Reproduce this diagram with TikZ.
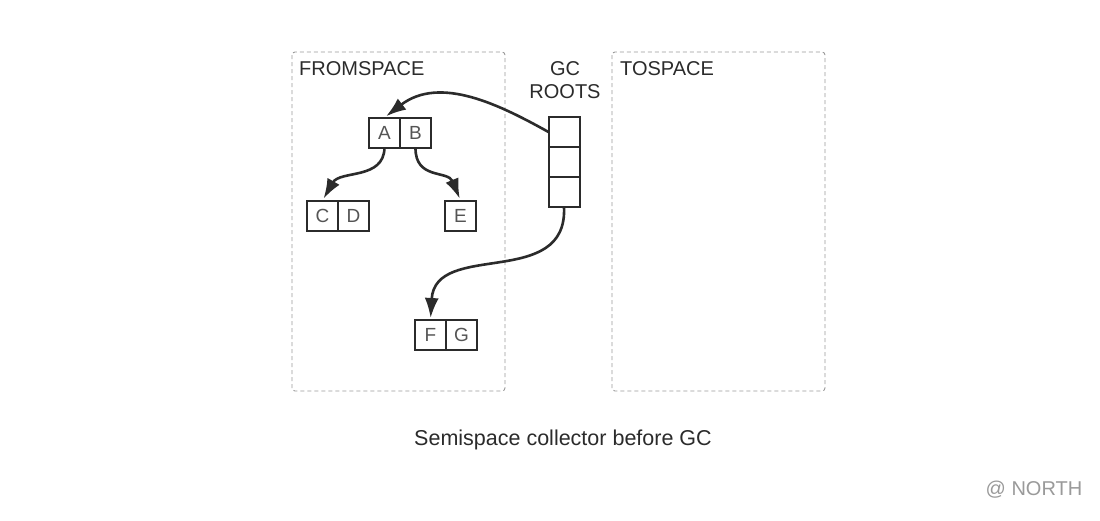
\documentclass[tikz,border=0pt]{standalone}
\usepackage{fontspec}
\setmainfont{Liberation Sans}
\usepackage{tikz}
\usetikzlibrary{arrows.meta,positioning}

\definecolor{boxline}{HTML}{2B2B2B}
\definecolor{celltext}{HTML}{555555}
\definecolor{spaceline}{HTML}{9A9A9A}

\tikzset{
  cell/.style={draw=boxline, line width=2pt, minimum width=31pt, minimum height=30pt,
               inner sep=0pt, outer sep=0pt, text=celltext, font=\fontsize{19}{19}\selectfont},
  space/.style={draw=spaceline, line width=0.9pt, dash pattern=on 4pt off 3pt, rounded corners=3pt},
  ref/.style={draw=boxline, line width=2.6pt, shorten >=2pt, -{Latex[length=20pt,width=14pt]}},
  lbl/.style={text=boxline, font=\fontsize{20}{23}\selectfont, inner sep=0pt}
}

\begin{document}
\begin{tikzpicture}[x=1pt,y=-1pt]
            \useasboundingbox (0,0) rectangle (1100,520);
            \fill [white] (0,0) rectangle (1100,520);
            % the two semispaces
            \draw [space] (292,52) rectangle (505,391);
            \draw [space] (612,52) rectangle (825,391);
            \node [lbl, anchor=west] (fromlbl) at (299,69) {FROMSPACE};
            \node [lbl, anchor=west] (tolbl) at (620,69) {TOSPACE};
            \node [lbl, align=center] (rootlbl) at (565,80.5) {GC\\ROOTS};
            % root set
            \node [cell] (r1) at (564,132) {};
            \node [cell, below=0pt of r1] (r2) {};
            \node [cell, below=0pt of r2] (r3) {};
            % objects
            \node [cell] (nA) at (384.5,132.5) {A};
            \node [cell, right=0pt of nA] (nB) {B};
            \node [cell] (nC) at (322.5,215.5) {C};
            \node [cell, right=0pt of nC] (nD) {D};
            \node [cell] (nE) at (460.5,215.5) {E};
            \node [cell] (nF) at (430.5,335) {F};
            \node [cell, right=0pt of nF] (nG) {G};
            % references
            \draw [ref] (r1.west) .. controls (500,105) and (440,75) .. (nA.north);
            \draw [ref] (nA.south) .. controls (384,180) and (340,170) .. (nC.north);
            \draw [ref] (nB.south) .. controls (415,180) and (448,170) .. (nE.north);
            \draw [ref] (r3.south) .. controls (568,290) and (435,240) .. (nF.north);
            % captions
            \node [lbl, font=\fontsize{21.5}{24}\selectfont] (caption) at (563,440) {Semispace collector before GC};
            \node [lbl, text=spaceline] (mark) at (1034,490) {@ NORTH};
\end{tikzpicture}
\end{document}
